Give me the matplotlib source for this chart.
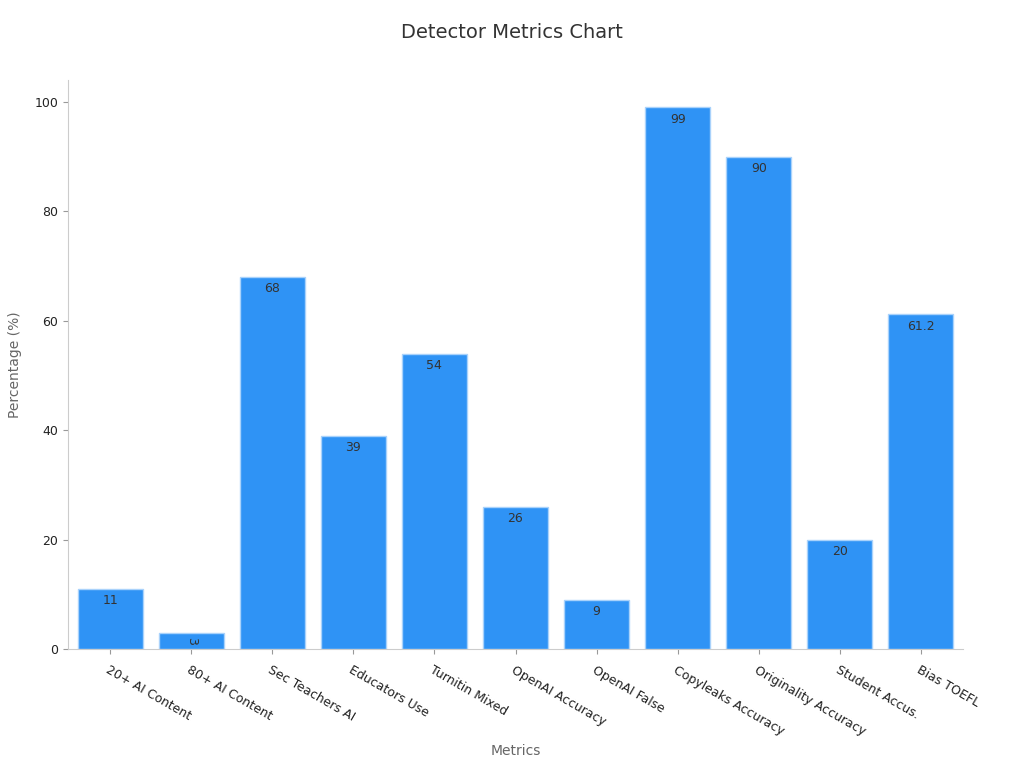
import matplotlib.pyplot as plt

# Data
metrics = ['20+ AI Content', '80+ AI Content', 'Sec Teachers AI', 'Educators Use',
           'Turnitin Mixed', 'OpenAI Accuracy', 'OpenAI False', 'Copyleaks Accuracy',
           'Originality Accuracy', 'Student Accus.', 'Bias TOEFL']
values = [11, 3, 68, 39, 54, 26, 9, 99, 90, 20, 61.2]
labels = ['11', '3', '68', '39', '54', '26', '9', '99', '90', '20', '61.2']
yticks = [0, 20, 40, 60, 80, 100]

fig = plt.figure(figsize=(10.24, 7.68), dpi=100)
ax = fig.add_axes([68/1024, 1 - 649/768, (963-68)/1024, (649-80)/768])

x = list(range(len(metrics)))
bars = ax.bar(x, values, width=0.8, color='#2f93f5', edgecolor='#a9d2fb', linewidth=1)

# value labels just inside the top of each bar
for b, v, lab in zip(bars, values, labels):
    cx = b.get_x() + b.get_width() / 2
    if v < 5:
        ax.text(cx, v / 2, lab, ha='center', va='center', rotation=-90,
                fontsize=9, color='#333333')
    else:
        ax.text(cx, v - 1, lab, ha='center', va='top', fontsize=9, color='#333333')

ax.set_xlim(-0.52, len(metrics) - 0.48)
ax.set_ylim(0, 104)
ax.set_yticks(yticks)
ax.set_xticks(x)
ax.set_xticklabels(metrics, rotation=-30, ha='left', rotation_mode='anchor', fontsize=9,
                   color='#222222')
ax.tick_params(axis='y', labelsize=9, labelcolor='#222222', color='#999999')
ax.tick_params(axis='x', color='#999999', pad=7)

for s in ['top', 'right']:
    ax.spines[s].set_visible(False)
for s in ['left', 'bottom']:
    ax.spines[s].set_color('#cccccc')

ax.set_ylabel('Percentage (%)', fontsize=10, color='#666666', labelpad=9)
ax.set_xlabel('Metrics', fontsize=10, color='#666666', labelpad=4)
fig.text(512/1024, 1 - 33/768, 'Detector Metrics Chart', ha='center', va='center',
         fontsize=14, color='#333333')

fig.savefig('out.png', dpi=100)
